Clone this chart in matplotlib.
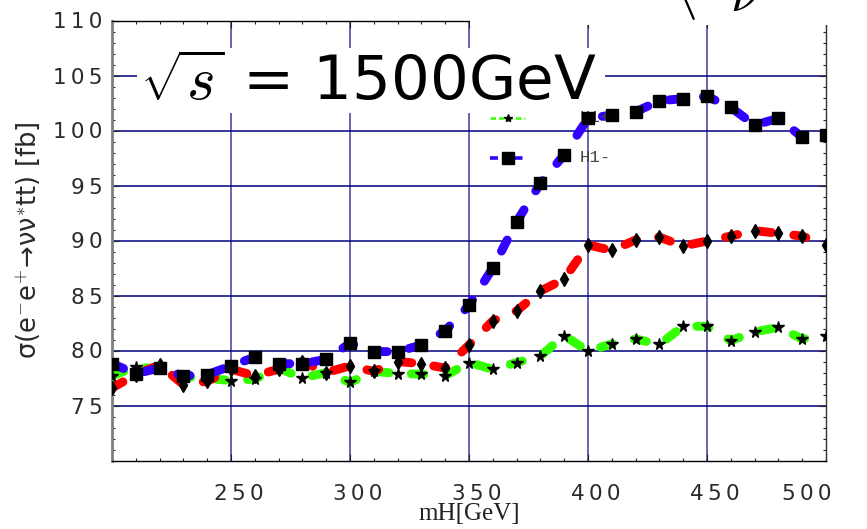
import matplotlib
matplotlib.use("Agg")
import matplotlib.pyplot as plt
from matplotlib.patches import Rectangle
from matplotlib.ticker import FixedLocator, FuncFormatter
from matplotlib.transforms import ScaledTranslation

plt.rcParams["mathtext.fontset"] = "cm"

# Higgs mass scan [GeV]
mh = [200, 210, 220, 230, 240, 250, 260, 270, 280, 290, 300,
      310, 320, 330, 340, 350, 360, 370, 380, 390, 400,
      410, 420, 430, 440, 450, 460, 470, 480, 490, 500]

# cross sections [fb]
sigma_h1_plus = [77.7, 78.5, 78.3, 77.6, 77.5, 77.25, 77.4, 78.4, 77.5, 78.0, 77.1,
                 78.1, 77.9, 77.85, 77.7, 78.9, 78.3, 78.9, 79.5, 81.35, 79.95,
                 80.6, 81.05, 80.55, 82.2, 82.2, 80.9, 81.7, 82.1, 81.05, 81.3]
sigma_h1_zero = [76.6, 77.8, 78.7, 76.9, 77.2, 78.3, 77.7, 78.3, 79.0, 78.0, 78.6,
                 78.1, 79.0, 78.8, 78.4, 80.5, 82.7, 83.6, 85.4, 86.5, 89.6,
                 89.1, 90.05, 90.3, 89.5, 89.95, 90.4, 90.9, 90.65, 90.4, 89.6]
sigma_h1_minus = [78.8, 77.9, 78.4, 77.7, 77.8, 78.6, 79.4, 78.8, 78.8, 79.2, 80.65,
                  79.9, 79.9, 80.5, 81.8, 84.1, 87.5, 91.7, 95.2, 97.8, 101.1,
                  101.4, 101.7, 102.7, 102.9, 103.1, 102.1, 100.5, 101.1, 99.4, 99.6]

x_major = [250, 300, 350, 400, 450, 500]
x_minor = list(range(200, 501, 10))
y_major = [75, 80, 85, 90, 95, 100, 105, 110]
y_minor = list(range(70, 111, 1))
legend_labels = ["H1+", "H1-"]

W, H = 867, 529
L, R, T, B = 112, 826, 20.5, 460.5
fig = plt.figure(figsize=(W / 100, H / 100), dpi=100)
ax = fig.add_axes([L / W, 1 - B / H, (R - L) / W, (B - T) / H])
ax.set_xlim(200, 500)
ax.set_ylim(70, 110)


def ax_px(px, py):
    return (px - L) / (R - L), (B - py) / (B - T)


# grid
for x in x_major[:-1]:
    ax.axvline(x, color="#3a3a9e", lw=1.1, zorder=1)
for y in y_major[:-1]:
    ax.axhline(y, color="#000080", lw=1.1, zorder=1)

# white panel behind the energy label
x0, y0 = ax_px(137, 113)
x1, y1 = ax_px(605, 48)
ax.add_patch(Rectangle((x0, y0), x1 - x0, y1 - y0, transform=ax.transAxes,
                       facecolor="white", edgecolor="none", zorder=2))

series = [
    (sigma_h1_plus, "#33ff00", "*", 8.5),
    (sigma_h1_zero, "#ff0000", "d", 7.5),
    (sigma_h1_minus, "#3300ff", "s", 8.0),
]
for vals, col, mk, ms in series:
    ax.plot(mh, vals, color=col, lw=6.4, dashes=(1.4, 2.5),
            dash_capstyle="round", zorder=3)
for vals, col, mk, ms in series:
    ax.plot(mh, vals, ls="none", marker=mk, color="black", ms=ms, zorder=4)

# legend entries
for (vals, col, mk, ms), lab, py, lw, lms in zip(
        [series[0], series[2]], legend_labels, [118, 158], [1.8, 2.6], [6, 9]):
    xa, ya = ax_px(490, py)
    xb, _ = ax_px(525, py)
    xm, _ = ax_px(508, py)
    ax.plot([xa, xb], [ya, ya], transform=ax.transAxes, color=col, lw=lw,
            dashes=(2.2, 1.2), zorder=3)
    ax.plot([xm], [ya], transform=ax.transAxes, marker=mk, color="black",
            ms=lms, ls="none", zorder=4)
    xt, _ = ax_px(580, py)
    ax.text(xt, ya, lab, transform=ax.transAxes, family="Liberation Mono",
            fontsize=12.5, color="#444444", va="center", ha="left", zorder=3.5)

# energy label
tx, ty = ax_px(140, 100)
ax.text(tx, ty, r"$\sqrt{s}$ = 1500GeV", transform=ax.transAxes, fontsize=44,
        va="baseline", ha="left", color="black", zorder=5)

# ticks
thin = "\u2009"
ax.xaxis.set_major_locator(FixedLocator(x_major))
ax.xaxis.set_minor_locator(FixedLocator(x_minor))
ax.yaxis.set_major_locator(FixedLocator(y_major))
ax.yaxis.set_minor_locator(FixedLocator(y_minor))
ax.xaxis.set_major_formatter(FuncFormatter(lambda v, p: thin.join(str(int(v)))))
ax.yaxis.set_major_formatter(FuncFormatter(lambda v, p: thin.join(str(int(v)))))
ax.tick_params(which="both", direction="in", top=True, right=True,
               colors="#222222", labelcolor="#2a2a2a")
ax.tick_params(which="major", length=5, width=0.8, labelsize=15.5)
ax.tick_params(which="minor", length=2.5, width=0.8)
ax.tick_params(axis="x", which="major", pad=17)
ax.tick_params(axis="y", which="major", pad=7)

# x tick labels sit slightly right of their ticks; the last one is pulled inside
shifts = [8, 8, 8, 8, 8, -19]
for lab, dx in zip(ax.get_xticklabels(), shifts):
    lab.set_transform(lab.get_transform() + ScaledTranslation(dx / 100, 0, fig.dpi_scale_trans))

for side, col, lw in [("left", "#7f7f7f", 2.0), ("bottom", "black", 1.0),
                      ("top", "black", 1.0), ("right", "#333333", 1.0)]:
    ax.spines[side].set_color(col)
    ax.spines[side].set_linewidth(lw)

ax.set_xlabel("mH[GeV]", family="Liberation Serif", fontsize=18, color="#222222",
              labelpad=-1)
ax.set_ylabel(r"σ(e$^{-}$e$^{+}$→νν$^{*}$tt) [fb]", fontsize=18.5,
              color="#2a2a2a", labelpad=8)

# fragment of the header cut at the top edge
fig.add_artist(Rectangle((470 / W, 1 - 25 / H), (W - 470) / W, 25 / H,
                         transform=fig.transFigure, facecolor="white",
                         edgecolor="none", zorder=10))
fig.text(672 / W, 1 - 7 / H, r"$\langle$", fontsize=40, va="baseline",
         ha="left", zorder=11)
fig.text(730 / W, 1 - 11 / H, r"$\nu$", fontsize=40, va="baseline",
         ha="left", zorder=11)

fig.savefig("out.png", dpi=100)
